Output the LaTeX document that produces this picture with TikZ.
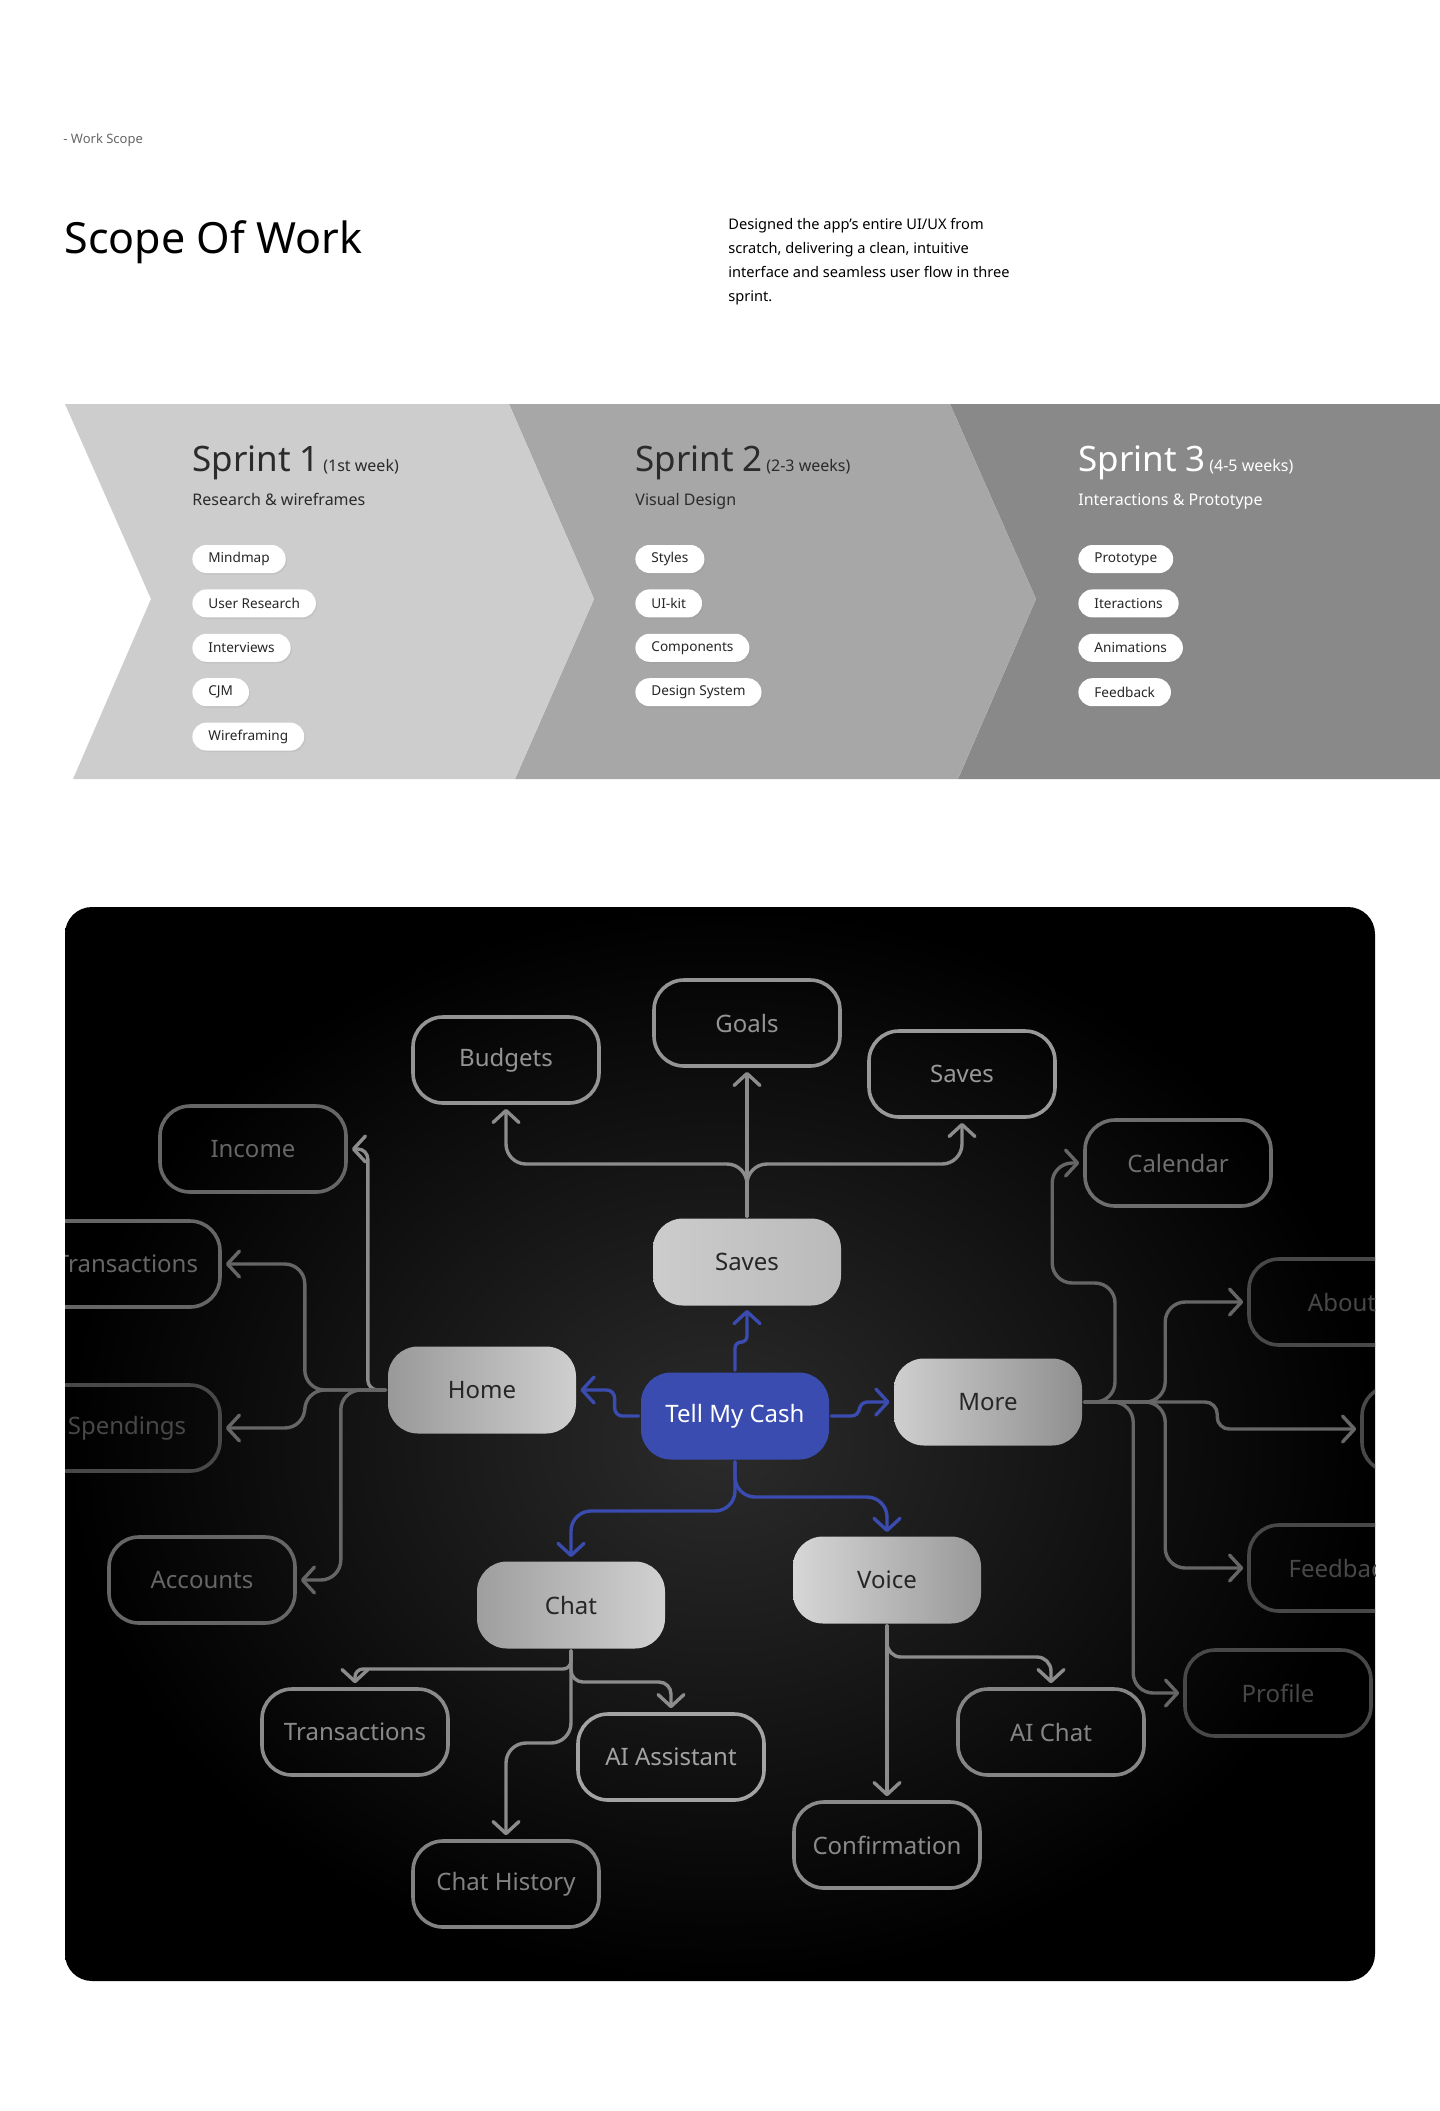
\documentclass[tikz,border=0pt]{standalone}
\usepackage{fontspec}
\setmainfont{Noto Sans}
\usetikzlibrary{positioning, arrows.meta, shadows}

\definecolor{chevA}{HTML}{CDCDCD}
\definecolor{chevB}{HTML}{A7A7A7}
\definecolor{chevC}{HTML}{898989}
\definecolor{darktext}{HTML}{2B2B2B}
\definecolor{tmcblue}{HTML}{3A4CAF}
\definecolor{linegray}{HTML}{8C8C8C}
\definecolor{linedim}{HTML}{666666}
\definecolor{leafgray}{HTML}{8E8E8E}
\definecolor{leafdim}{HTML}{666666}
\definecolor{leafdark}{HTML}{484848}

\begin{document}
\begin{tikzpicture}[
    x=0.5pt, y=-0.5pt,
    pill/.style={fill=white, rounded corners=7pt, minimum height=14pt, inner xsep=8pt, inner ysep=0pt,
        font=\fontsize{6.8}{8}\selectfont, text=black!85,
        drop shadow={opacity=0.12, shadow xshift=0.6pt, shadow yshift=-0.8pt}},
    sprint/.style={anchor=base west, inner sep=0pt, text=darktext},
    leaf/.style={draw=#1, text=#1, line width=1.8pt, rounded corners=15pt,
        minimum width=93pt, minimum height=43pt, font=\fontsize{12}{14}\selectfont},
    leaf/.default=leafgray,
    hub/.style 2 args={left color=#1, right color=#2, rounded corners=15pt,
        minimum width=94pt, minimum height=43.5pt, text=black!85, font=\fontsize{12}{14}\selectfont},
    conn/.style={draw=#1, line width=1.7pt, rounded corners=10pt, line cap=round,
        -{Straight Barb[round, length=6pt, width=13pt]}, shorten >=2pt, shorten <=1pt},
    conn/.default=linegray,
    bconn/.style={conn=tmcblue}
]
\useasboundingbox (0,0) rectangle (1440,2111);

% Header
\node[anchor=west, inner sep=0pt, text=black!60, font=\fontsize{6.5}{8}\selectfont] (tag) at (63,140) {- Work Scope};
\node[anchor=base west, inner sep=0pt, font=\fontsize{21.5}{26}\selectfont] (title) at (64,253) {Scope Of Work};
\node[anchor=north west, inner sep=0pt, align=left, font=\fontsize{7.3}{12}\selectfont] (desc) at (728,218)
    {Designed the app’s entire UI/UX from\\scratch, delivering a clean, intuitive\\interface and seamless user flow in three\\sprint.};

% Sprint band
\fill[chevC] (950,404) -- (1440,404) -- (1440,779) -- (958,779) -- (1036,599) -- cycle;
\fill[chevB] (509,404) -- (950,404) -- (1036,599) -- (958,779) -- (515,779) -- (594,599) -- cycle;
\fill[chevA] (65,404) -- (509,404) -- (594,599) -- (515,779) -- (73,779) -- (151,599) -- cycle;

\node[sprint] (s1) at (192,471) {{\fontsize{17.5}{20}\selectfont Sprint 1}\,{\fontsize{8}{10}\selectfont (1st week)}};
\node[sprint, font=\fontsize{8}{10}\selectfont] (s1sub) at (192,505) {Research \& wireframes};
\node[pill, anchor=west] (s1a) at (192,559) {Mindmap};
\node[pill, below=7.8pt of s1a.south west, anchor=north west] (s1b) {User Research};
\node[pill, below=7.8pt of s1b.south west, anchor=north west] (s1c) {Interviews};
\node[pill, below=7.8pt of s1c.south west, anchor=north west] (s1d) {CJM};
\node[pill, below=7.8pt of s1d.south west, anchor=north west] (s1e) {Wireframing};

\node[sprint] (s2) at (635,471) {{\fontsize{17.5}{20}\selectfont Sprint 2}\,{\fontsize{8}{10}\selectfont (2-3 weeks)}};
\node[sprint, font=\fontsize{8}{10}\selectfont] (s2sub) at (635,505) {Visual Design};
\node[pill, anchor=west] (s2a) at (635,559) {Styles};
\node[pill, below=7.8pt of s2a.south west, anchor=north west] (s2b) {UI-kit};
\node[pill, below=7.8pt of s2b.south west, anchor=north west] (s2c) {Components};
\node[pill, below=7.8pt of s2c.south west, anchor=north west] (s2d) {Design System};

\node[sprint, text=white] (s3) at (1078,471) {{\fontsize{17.5}{20}\selectfont Sprint 3}\,{\fontsize{8}{10}\selectfont (4-5 weeks)}};
\node[sprint, text=white, font=\fontsize{8}{10}\selectfont] (s3sub) at (1078,505) {Interactions \& Prototype};
\node[pill, anchor=west] (s3a) at (1078,559) {Prototype};
\node[pill, below=7.8pt of s3a.south west, anchor=north west] (s3b) {Iteractions};
\node[pill, below=7.8pt of s3b.south west, anchor=north west] (s3c) {Animations};
\node[pill, below=7.8pt of s3c.south west, anchor=north west] (s3d) {Feedback};

% Mindmap panel
\shade[inner color=black!83, outer color=black, rounded corners=13.5pt] (65,907) rectangle (1375,1981);
\begin{scope}
\clip[rounded corners=13.5pt] (65,907) rectangle (1375,1981);

% centre and hubs
\node[fill=tmcblue, rounded corners=15pt, minimum width=94pt, minimum height=43.5pt, text=white,
      font=\fontsize{12}{14}\selectfont] (tmc) at (735,1416) {Tell My Cash};
\node[hub={black!20}{black!27}] (savesF) at (747,1262) {Saves};
\node[hub={black!40}{black!19}] (home) at (482,1390) {Home};
\node[hub={black!19}{black!44}] (more) at (988,1402) {More};
\node[hub={black!38}{black!18}] (chat) at (571,1605) {Chat};
\node[hub={black!16}{black!40}] (voice) at (887,1580) {Voice};

% leaves
\node[leaf=black!42] (goals) at (747,1023) {Goals};
\node[leaf=black!42] (budgets) at (506,1060) {Budgets};
\node[leaf=black!40] (savesO) at (962,1074) {Saves};
\node[leaf=leafdim] (income) at (253,1149) {Income};
\node[leaf=black!57] (calendar) at (1178,1163) {Calendar};
\node[leaf=leafdim] (transL) at (127,1264) {Transactions};
\node[leaf=leafdark] (about) at (1342,1302) {About};
\node[leaf=leafdark] (spend) at (127,1428) {Spendings};
\node[leaf=leafdark] (rbox) at (1455,1429) {};
\node[leaf=leafdark] (feedback) at (1342,1568) {Feedback};
\node[leaf=leafdim] (acc) at (202,1580) {Accounts};
\node[leaf=leafdark] (profile) at (1278,1693) {Profile};
\node[leaf=black!46] (transB) at (355,1732) {Transactions};
\node[leaf=black!36] (aiAs) at (671,1757) {AI Assistant};
\node[leaf=black!48] (aiChat) at (1051,1732) {AI Chat};
\node[leaf=black!49] (chist) at (506,1884) {Chat History};
\node[leaf=black!46] (conf) at (887,1845) {Confirmation};

% branch levels
\coordinate (svbr) at (0,1164);
\coordinate (tbl) at (0,1511);
\coordinate (tbr) at (0,1497);
\coordinate (chA) at (0,1669);
\coordinate (chB) at (0,1682);
\coordinate (chC) at (0,1743);
\coordinate (vcA) at (0,1657);
\coordinate (calA) at (1115,1283);

% blue links from the centre
\draw[bconn, rounded corners=3pt] (tmc.north) -- ++(0,-30) -| (savesF.south);
\draw[bconn, rounded corners=4pt] (tmc.west) -- ++(-26,0) |- (home.east);
\draw[bconn, rounded corners=4pt] (tmc.east) -- ++(30,0) |- (more.west);
\draw[bconn] (tmc.south) |- (chat.north |- tbl) -- (chat.north);
\draw[bconn] (tmc.south) |- (voice.north |- tbr) -- (voice.north);

% Saves
\draw[conn] (savesF.north) -- (goals.south);
\draw[conn] (savesF.north) |- (budgets.south |- svbr) -- (budgets.south);
\draw[conn] (savesF.north) |- (savesO.south |- svbr) -- (savesO.south);

% Home
\draw[conn, rounded corners=5pt] (home.west) -| ([xshift=10pt]income.east) -- (income.east);
\draw[conn=linedim] (home.west) -| ([xshift=41.5pt]transL.east) -- (transL.east);
\draw[conn=linedim] (home.west) -| ([xshift=41.5pt]spend.east) -- (spend.east);
\draw[conn=linedim] (home.west) -| ([xshift=22pt]acc.east) -- (acc.east);

% More
\draw[conn=linedim] (more.east) -| (calA) -| ([xshift=-15.5pt]calendar.west) -- (calendar.west);
\draw[conn=linedim] (more.east) -| ([xshift=-41pt]about.west) -- (about.west);
\draw[conn=linedim, rounded corners=6pt] (more.east) -| ([xshift=-71.5pt]rbox.west) -- (rbox.west);
\draw[conn=linedim] (more.east) -| ([xshift=-41pt]feedback.west) -- (feedback.west);
\draw[conn=linedim] (more.east) -| ([xshift=-25pt]profile.west) -- (profile.west);

% Chat
\draw[conn, rounded corners=4pt] (chat.south) |- (transB.north |- chA) -- (transB.north);
\draw[conn, rounded corners=6pt] (chat.south) |- (aiAs.north |- chB) -- (aiAs.north);
\draw[conn] (chat.south) |- (chist.north |- chC) -- (chist.north);

% Voice
\draw[conn] (voice.south) -- (conf.north);
\draw[conn, rounded corners=7pt] (voice.south) |- (aiChat.north |- vcA) -- (aiChat.north);
\end{scope}
\end{tikzpicture}
\end{document}
